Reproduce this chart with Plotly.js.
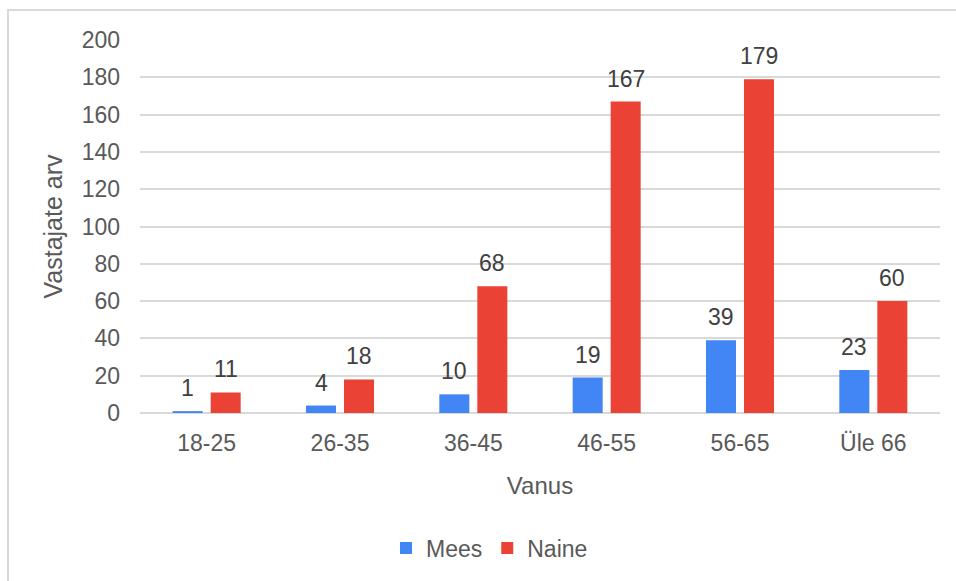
<!DOCTYPE html>
<html>
<head>
<meta charset="utf-8">
<script src="https://cdn.plot.ly/plotly-3.0.1.min.js"></script>
<style>
html,body{margin:0;padding:0;background:#fff;}
#frame{position:absolute;left:7px;top:9px;width:960px;height:590px;border-left:2px solid #d9d9d9;border-top:2px solid #d9d9d9;}
#chart{position:absolute;left:0;top:0;width:956px;height:581px;}
</style>
</head>
<body>
<div id="frame"></div>
<div id="chart"></div>
<script>
const categories = ["18-25", "26-35", "36-45", "46-55", "56-65", "Üle 66"];
const mees = [1, 4, 10, 19, 39, 23];
const naine = [11, 18, 68, 167, 179, 60];
const seriesNames = ["Mees", "Naine"];
const yTicks = [0, 20, 40, 60, 80, 100, 120, 140, 160, 180, 200];

const FONT = "Liberation Sans, Arial, sans-serif";
const labelFont = {family: FONT, size: 23, color: "#404040"};

const traces = [
  {type: "bar", name: seriesNames[0], x: categories, y: mees, marker: {color: "#4285F4"}, hoverinfo: "none"},
  {type: "bar", name: seriesNames[1], x: categories, y: naine, marker: {color: "#EA4335"}, hoverinfo: "none"}
];

const annotations = [];
[mees, naine].forEach((vals, si) => {
  vals.forEach((v, i) => {
    annotations.push({
      x: categories[i], y: v, xref: "x", yref: "y",
      text: String(v), showarrow: false,
      xanchor: "center", yanchor: "bottom",
      xshift: si === 0 ? -19 : 19, yshift: 8,
      font: labelFont
    });
  });
});

const layout = {
  width: 956, height: 581,
  margin: {l: 140, r: 16, t: 40, b: 166},
  paper_bgcolor: "rgba(0,0,0,0)",
  plot_bgcolor: "rgba(0,0,0,0)",
  font: {family: FONT, size: 23, color: "#595959"},
  barmode: "group",
  bargap: 0.43,
  bargroupgap: 0.21,
  showlegend: true,
  legend: {orientation: "h", x: 0.3075, xanchor: "left", y: -0.362, yanchor: "middle",
           font: {size: 23, color: "#595959"}, itemwidth: 30, traceorder: "normal"},
  annotations: annotations,
  xaxis: {
    type: "category", showgrid: false, zeroline: false, showline: false, ticks: "",
    tickfont: {size: 23, color: "#595959"}, ticklabelstandoff: 14,
    title: {text: "Vanus", font: {size: 24, color: "#595959"}, standoff: 22}
  },
  yaxis: {
    range: [0, 200], tickvals: yTicks, ticktext: yTicks.map(String),
    showgrid: true, gridcolor: "#d9d9d9", gridwidth: 2,
    zeroline: true, zerolinecolor: "#d9d9d9", zerolinewidth: 2,
    showline: false, ticks: "", ticklabelstandoff: 19,
    tickfont: {size: 23, color: "#595959"},
    title: {text: "Vastajate arv", font: {size: 25, color: "#595959"}, standoff: 11}
  }
};

Plotly.newPlot("chart", traces, layout, {displayModeBar: false, staticPlot: true});
</script>
</body>
</html>
